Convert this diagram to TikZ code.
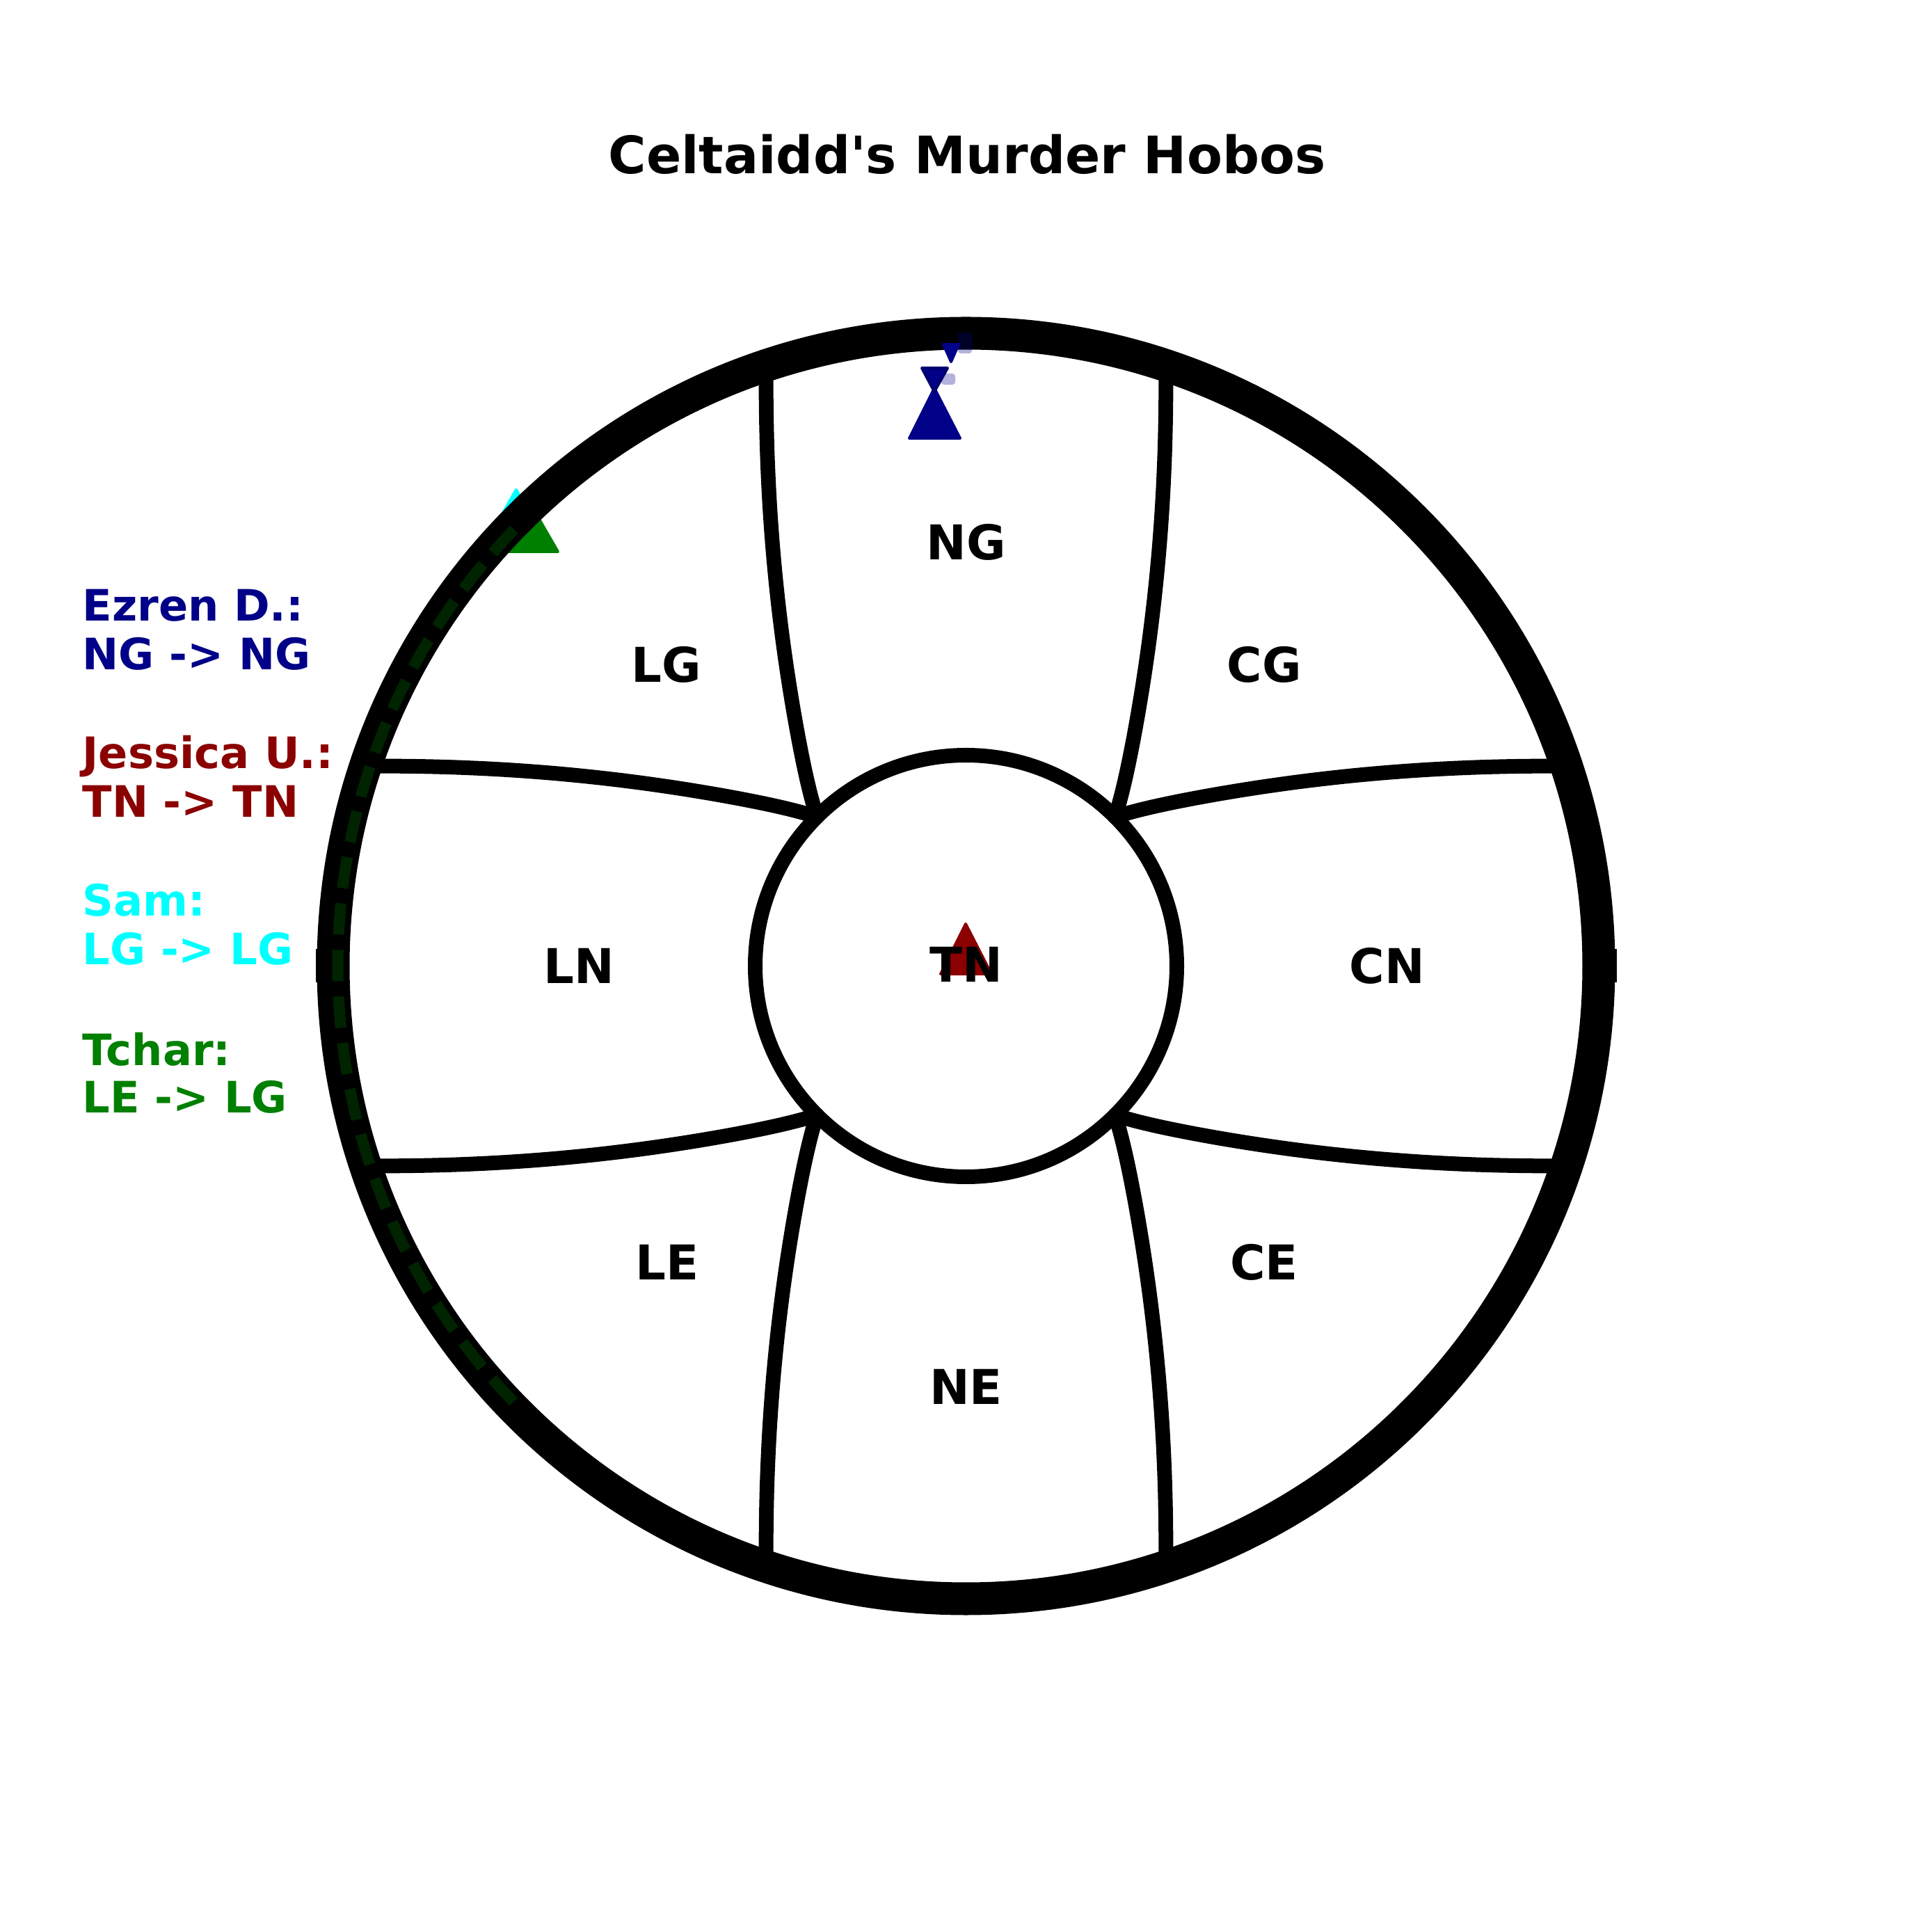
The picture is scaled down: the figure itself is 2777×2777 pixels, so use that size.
\documentclass[tikz,border=0pt]{standalone}
\usepackage{fontspec}
\setmainfont{DejaVu Sans}
\setmonofont{DejaVu Sans}
\definecolor{mplnavy}{RGB}{0,0,136}
\definecolor{mpldarkred}{RGB}{139,0,0}
\definecolor{mplgreen}{RGB}{0,128,0}
\definecolor{mplcyan}{RGB}{0,255,255}
\begin{document}
\begin{tikzpicture}[x=0.01cm,y=0.01cm,
  lbl/.style={font=\fontsize{19.6pt}{19.6pt}\selectfont\bfseries, inner sep=0pt},
  leg/.style={font=\fontsize{17.7pt}{17.7pt}\selectfont\bfseries, inner sep=0pt, anchor=base west},
  ttl/.style={font=\fontsize{21.1pt}{21.1pt}\selectfont\ttfamily\bfseries, inner sep=0pt, anchor=base},
  spokeline/.style={line width=0.21cm, line cap=round},
  marker/.style={line width=0.04cm, line join=round}]
\fill[white] (0,0) rectangle (2777,2777);
\useasboundingbox (0,0) rectangle (2777,2777);

\node[ttl] (title) at (1390,2527) {Celtaidd's Murder Hobos};

% markers under the ring
\filldraw[marker, fill=mplcyan, draw=mplcyan] (742,2073) -- (712,2021) -- (772,2021) -- cycle;
\filldraw[marker, fill=mplgreen, draw=mplgreen] (765,2048) -- (728,1984) -- (802,1984) -- cycle;

\begin{scope}[shift={(1388.5,1388.5)}]
  % outer ring
  \draw[line width=0.47cm] (0,0) circle[radius=909.5];
  \fill (-935,-24) rectangle (-915,24);
  \fill (915,-24) rectangle (935,24);
  % inner circle
  \draw[line width=0.21cm] (0,0) circle[radius=303];
  % spokes
  \foreach \r in {0,90,180,270}{
    \draw[spokeline, rotate=\r] plot[domain=0:1.02, samples=40, variable=\s, smooth]
      ({135-26.2*\s}:{303+270.8*\s+34.5*\s*\s+283.4*\s*\s*\s});
    \draw[spokeline, rotate=\r, xscale=-1] plot[domain=0:1.02, samples=40, variable=\s, smooth]
      ({135-26.2*\s}:{303+270.8*\s+34.5*\s*\s+283.4*\s*\s*\s});
  }
  % Tchar dashed path along the ring
  \draw[mplgreen, opacity=0.28, line width=0.16cm, dash pattern=on 0.45cm off 0.22cm]
    (136:903) arc[start angle=136, end angle=225, radius=903];
\end{scope}

% Ezren markers
\filldraw[marker, fill=mplnavy, draw=mplnavy] (1343,2219) -- (1307,2147) -- (1380,2147) -- cycle;
\filldraw[marker, fill=mplnavy, draw=mplnavy!80!black] (1325,2248) -- (1362,2248) -- (1343,2214) -- cycle;
\filldraw[marker, fill=mplnavy, draw=mplnavy] (1356,2282) -- (1378,2282) -- (1367,2257) -- cycle;
\fill[mplnavy, opacity=0.3, rounded corners=0.04cm] (1353,2224) rectangle (1373,2240);
\fill[mplnavy, opacity=0.3, rounded corners=0.04cm] (1377,2269) rectangle (1397,2299);

% Jessica marker
\filldraw[marker, fill=mpldarkred, draw=mpldarkred] (1388,1449) -- (1352,1377) -- (1425,1377) -- cycle;

% sector labels
\node[lbl] (ng) at (1388.5,1998) {NG};
\node[lbl] (ne) at (1388.5,784) {NE};
\node[lbl] (lg) at (958,1822) {LG};
\node[lbl] (cg) at (1817,1822) {CG};
\node[lbl] (le) at (959,963) {LE};
\node[lbl] (ce) at (1817,963) {CE};
\node[lbl] (cn) at (1994,1388.5) {CN};
\node[lbl] (ln) at (832,1388.5) {LN};
\node[lbl] (tn) at (1388.5,1391) {TN};

% legend
\node[leg, mplnavy] (l1a) at (118,1884) {Ezren D.:};
\node[leg, mplnavy] (l1b) at (118,1814) {NG -> NG};
\node[leg, mpldarkred] (l2a) at (118,1672) {Jessica U.:};
\node[leg, mpldarkred] (l2b) at (118,1602) {TN -> TN};
\node[leg, mplcyan] (l3a) at (118,1460) {Sam:};
\node[leg, mplcyan] (l3b) at (118,1390) {LG -> LG};
\node[leg, mplgreen] (l4a) at (118,1245) {Tchar:};
\node[leg, mplgreen] (l4b) at (118,1177) {LE -> LG};
\end{tikzpicture}
\end{document}
